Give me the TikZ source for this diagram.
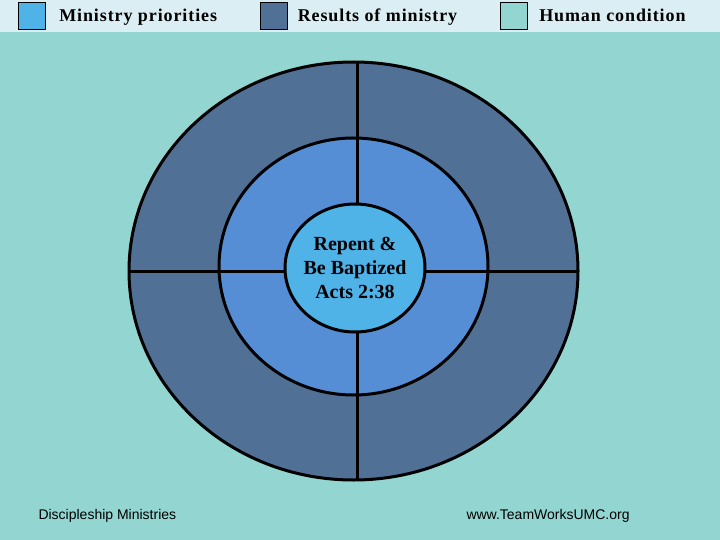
\documentclass[tikz,border=0pt]{standalone}
\usepackage{fontspec}
\setmainfont{Liberation Serif}
\setsansfont{Liberation Sans}
\usetikzlibrary{positioning,shapes.geometric}
\definecolor{topbar}{HTML}{DBEEF3}
\definecolor{humancol}{HTML}{93D5D0}
\definecolor{resultcol}{HTML}{517096}
\definecolor{ringcol}{HTML}{558ED5}
\definecolor{prioritycol}{HTML}{4FB3E8}

\begin{document}
\begin{tikzpicture}[x=1pt,y=-1pt,line width=3pt]
  \tikzstyle{legbox}=[draw,line width=0.6pt,minimum width=27pt,minimum height=27pt,inner sep=0pt]
  \tikzstyle{legtext}=[font=\bfseries\fontsize{18}{20}\selectfont\addfontfeatures{LetterSpace=5},inner sep=0pt,yshift=-6pt]
  \tikzstyle{foot}=[font=\sffamily\fontsize{14}{16}\selectfont,anchor=west,inner sep=0pt]
  \fill[humancol] (0,0) rectangle (720,540);
  \fill[topbar] (0,0) rectangle (720,32);
  \useasboundingbox (0,0) rectangle (720,540);
  % legend
  \node[legbox,fill=prioritycol] (keyprio) at (32,16) {};
  \node[legtext,right=12pt of keyprio,anchor=base west] (txtprio) {Ministry priorities};
  \node[legbox,fill=resultcol] (keyres) at (273.5,16) {};
  \node[legtext,right=9pt of keyres,anchor=base west] (txtres) {Results of ministry};
  \node[legbox,fill=humancol] (keyhum) at (514,16) {};
  \node[legtext,right=10pt of keyhum,anchor=base west] (txthum) {Human condition};
  % rings
  \filldraw[fill=resultcol] (353.5,271) ellipse [x radius=224.5,y radius=209];
  \filldraw[fill=ringcol] (353.5,266.5) ellipse [x radius=134.5,y radius=128.5];
  \coordinate (top) at (357,62);
  \coordinate (bot) at (357,480);
  \coordinate (lft) at (129,271);
  \coordinate (rgt) at (578,271);
  \draw (top) -- (bot);
  \draw (lft) -- (rgt);
  \node[ellipse,draw,fill=prioritycol,minimum width=140pt,minimum height=128pt,inner sep=-10pt,
        align=center,font=\bfseries\fontsize{20}{24}\selectfont] (core) at (355,268)
        {Repent \&\\Be Baptized\\Acts 2:38};
  % footer
  \node[foot] (left) at (37,516) {Discipleship Ministries};
  \node[foot] (right) at (465,516) {www.TeamWorksUMC.org};
\end{tikzpicture}
\end{document}
